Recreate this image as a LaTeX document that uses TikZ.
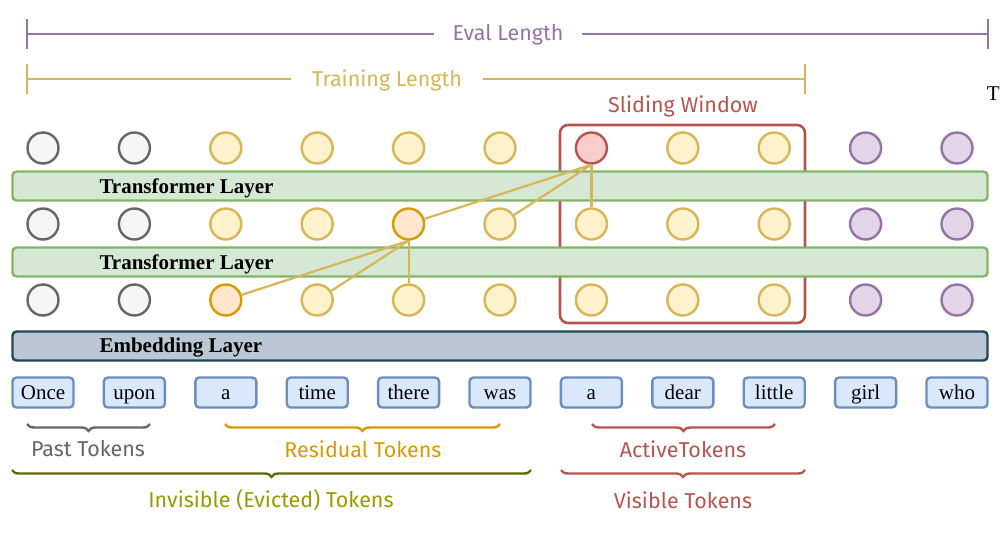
\documentclass[tikz,border=0pt]{standalone}
\usepackage{fontspec}
\setmainfont{Liberation Serif}
\newfontfamily\handfont{Fira Sans}
\usetikzlibrary{decorations.pathreplacing,positioning}

\definecolor{grey_fill}{HTML}{F5F5F5}
\definecolor{grey_line}{HTML}{666666}
\definecolor{yellow_fill}{HTML}{FFF2CC}
\definecolor{yellow_line}{HTML}{D6B656}
\definecolor{purple_fill}{HTML}{E1D5E7}
\definecolor{purple_line}{HTML}{9673A6}
\definecolor{red_fill}{HTML}{F8CECC}
\definecolor{red_line}{HTML}{B85450}
\definecolor{orange_fill}{HTML}{FFE6CC}
\definecolor{orange_line}{HTML}{D79B00}
\definecolor{green_fill}{HTML}{D5E8D4}
\definecolor{green_line}{HTML}{82B366}
\definecolor{blue_fill}{HTML}{DAE8FC}
\definecolor{blue_line}{HTML}{6C8EBF}
\definecolor{steel_fill}{HTML}{BAC8D3}
\definecolor{steel_line}{HTML}{23445D}
\definecolor{olive_line}{HTML}{666600}
\definecolor{olive_text}{HTML}{999900}
\tikzstyle{state_circle}=[circle,
                          minimum size=31pt,
                          inner sep=0pt,
                          line width=2.4pt, ]
\tikzstyle{token_box}=[rectangle,
                       minimum width=61pt,
                       minimum height=30pt,
                       draw=blue_line, fill=blue_fill,
                       line width=2.4pt,
                       rounded corners=4,
                       text height=16pt, text depth=2pt,
                       font=\fontsize{21}{21}\selectfont, ]
\tikzstyle{layer_bar}=[rectangle,
                       minimum width=975pt,
                       minimum height=29pt,
                       line width=2.4pt,
                       rounded corners=4, ]
\tikzstyle{layer_text}=[anchor=west, font=\bfseries\fontsize{21}{21}\selectfont]
\tikzstyle{hand_text}=[font=\handfont\fontsize{21.5}{21.5}\selectfont]
\tikzstyle{attn_line}=[draw=yellow_line, line width=2.2pt]
\tikzstyle{span_brace}=[decorate, decoration={brace, mirror, amplitude=7pt}, line width=2.4pt]
\tikzstyle{span_tick}=[line width=2.6pt]

\begin{document}
\begin{tikzpicture}[x=1pt, y=-1pt]
  \useasboundingbox (0,0) rectangle (1000,538);

  % Lengths
  % -------------------------------------------------------------
  \coordinate (eval_l) at (27,34);
  \coordinate (eval_r) at (988,34);
  \node at (508,35) (eval_lbl) [hand_text, text=purple_line, inner xsep=18pt] {Eval Length};
  \draw[span_tick, purple_line] (eval_l) -- (eval_lbl.west |- eval_l) (eval_lbl.east |- eval_r) -- (eval_r);
  \draw[span_tick, purple_line] ([yshift=15pt]eval_l) -- ([yshift=-15pt]eval_l);
  \draw[span_tick, purple_line] ([yshift=15pt]eval_r) -- ([yshift=-15pt]eval_r);

  \coordinate (train_l) at (27,79);
  \coordinate (train_r) at (805,79);
  \node at (387,80) (train_lbl) [hand_text, text=yellow_line, inner xsep=21pt] {Training Length};
  \draw[span_tick, yellow_line] (train_l) -- (train_lbl.west |- train_l) (train_lbl.east |- train_r) -- (train_r);
  \draw[span_tick, yellow_line] ([yshift=15pt]train_l) -- ([yshift=-15pt]train_l);
  \draw[span_tick, yellow_line] ([yshift=15pt]train_r) -- ([yshift=-15pt]train_r);

  \node at (1000,94) (stray_t) [anchor=east, inner xsep=0pt, font=\fontsize{21}{21}\selectfont] {T};

  % Sliding window
  % -------------------------------------------------------------
  \node at (682.5,224) (window) [rectangle, minimum width=245pt, minimum height=198pt,
    draw=red_line, line width=2.6pt, rounded corners=8] {};
  \node at (683,106) (window_lbl) [hand_text, text=red_line] {Sliding Window};

  % Layers
  % -------------------------------------------------------------
  \node at (500,186) (layer_2) [layer_bar, draw=green_line, fill=green_fill] {};
  \node at (500,262) (layer_1) [layer_bar, draw=green_line, fill=green_fill] {};
  \node at (500,346) (embed) [layer_bar, draw=steel_line, fill=steel_fill] {};
  \node at (96,188) (layer_2_lbl) [layer_text] {Transformer Layer};
  \node at (96,264) (layer_1_lbl) [layer_text] {Transformer Layer};
  \node at (96,348) (embed_lbl) [layer_text] {Embedding Layer};

  % Hidden states
  % -------------------------------------------------------------
  \foreach \i/\c in {0/grey, 1/grey, 2/yellow, 3/yellow, 4/yellow, 5/yellow, 6/red, 7/yellow, 8/yellow, 9/purple, 10/purple} {
      \node at (43 + 91.4 * \i, 148) (hid2_\i) [state_circle, draw={\c_line}, fill={\c_fill}] {};
    }
  \foreach \i/\c in {0/grey, 1/grey, 2/yellow, 3/yellow, 4/orange, 5/yellow, 6/yellow, 7/yellow, 8/yellow, 9/purple, 10/purple} {
      \node at (43 + 91.4 * \i, 224) (hid1_\i) [state_circle, draw={\c_line}, fill={\c_fill}] {};
    }
  \foreach \i/\c in {0/grey, 1/grey, 2/orange, 3/yellow, 4/yellow, 5/yellow, 6/yellow, 7/yellow, 8/yellow, 9/purple, 10/purple} {
      \node at (43 + 91.4 * \i, 300) (hid0_\i) [state_circle, draw={\c_line}, fill={\c_fill}] {};
    }

  % Attention
  % -------------------------------------------------------------
  \foreach \j in {4, 5, 6} {
      \draw[attn_line] (hid2_6.south) -- (hid1_\j);
    }
  \foreach \j in {2, 3, 4} {
      \draw[attn_line] (hid1_4.south) -- (hid0_\j);
    }

  % Tokens
  % -------------------------------------------------------------
  \foreach \i/\w in {0/Once, 1/upon, 2/a, 3/time, 4/there, 5/was, 6/a, 7/dear, 8/little, 9/girl, 10/who} {
      \node at (43 + 91.4 * \i, 392.5) (tok_\i) [token_box] {\w};
    }

  % Spans
  % -------------------------------------------------------------
  \draw[span_brace, grey_line] (27,424) -- (150,424);
  \node at (88,449) (past_lbl) [hand_text, text=grey_line] {Past Tokens};
  \draw[span_brace, orange_line] (225,424) -- (500,424);
  \node at (363,449) (resid_lbl) [hand_text, text=orange_line] {Residual Tokens};
  \draw[span_brace, red_line] (592,424) -- (775,424);
  \node at (683,449) (active_lbl) [hand_text, text=red_line] {ActiveTokens};
  \draw[span_brace, olive_line] (12,470) -- (531,470);
  \node at (271,500) (evict_lbl) [hand_text, text=olive_text] {Invisible (Evicted) Tokens};
  \draw[span_brace, red_line] (561,470) -- (805,470);
  \node at (683,500) (visible_lbl) [hand_text, text=red_line] {Visible Tokens};
\end{tikzpicture}
\end{document}
